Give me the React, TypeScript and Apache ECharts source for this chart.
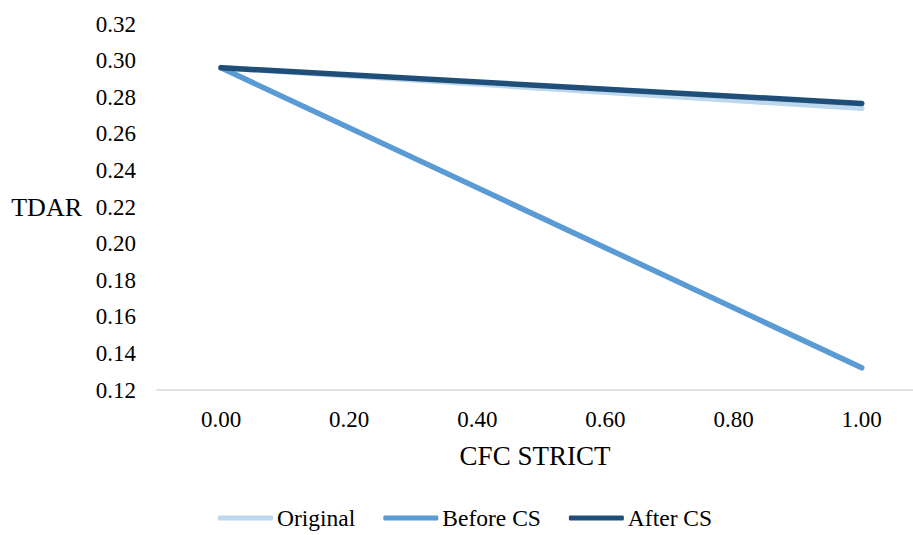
import React, { useEffect, useRef } from "react";
import * as echarts from "echarts";

const xValues = [0, 1];
const xTicks = [0, 0.2, 0.4, 0.6, 0.8, 1.0];
const original = [0.2961, 0.2739];
const beforeCS = [0.2961, 0.1321];
const afterCS = [0.2961, 0.2766];
const seriesNames = ["Original", "Before CS", "After CS"];
const colors = ["#BDD7EE", "#5B9BD5", "#1F4E79"];

const FONT = "Liberation Serif";

export default function App() {
  const ref = useRef<HTMLDivElement>(null);
  useEffect(() => {
    if (!ref.current) return;
    const chart = echarts.init(ref.current, undefined, { renderer: "svg" });
    const allData = [original, beforeCS, afterCS];
    chart.setOption({
      animation: false,
      backgroundColor: "#ffffff",
      textStyle: { fontFamily: FONT },
      grid: { left: 157, right: 0, top: 24, bottom: 145 },
      legend: {
        top: 505,
        left: 218,
        padding: 0,
        itemWidth: 55,
        itemHeight: 5,
        itemGap: 28,
        icon: "roundRect",
        textStyle: { fontFamily: FONT, fontSize: 23.5, color: "#000", lineHeight: 26, padding: [0, 0, 0, -1] },
        data: seriesNames,
      },
      xAxis: {
        type: "value",
        min: -0.1,
        max: 1.08,
        name: "CFC STRICT",
        nameLocation: "middle",
        nameGap: 52,
        nameTextStyle: { fontFamily: FONT, fontSize: 27, color: "#000" },
        axisLine: { show: true, onZero: false, lineStyle: { color: "#D9D9D9", width: 1.5 } },
        axisTick: { show: false },
        splitLine: { show: false },
        axisLabel: {
          customValues: xTicks,
          formatter: (v: number) => v.toFixed(2),
          fontFamily: FONT,
          fontSize: 23,
          color: "#000",
          margin: 18,
        },
      },
      yAxis: {
        type: "value",
        min: 0.12,
        max: 0.32,
        interval: 0.02,
        name: "TDAR",
        nameLocation: "middle",
        nameRotate: 0,
        nameGap: 75,
        nameTextStyle: { fontFamily: FONT, fontSize: 26, color: "#000", align: "right" },
        axisLine: { show: false },
        axisTick: { show: false },
        splitLine: { show: false },
        axisLabel: {
          formatter: (v: number) => v.toFixed(2),
          fontFamily: FONT,
          fontSize: 23,
          color: "#000",
          margin: 21,
        },
      },
      series: seriesNames.map((name, i) => ({
        name,
        type: "line",
        data: xValues.map((x, j) => [x, allData[i][j]]),
        symbol: "none",
        lineStyle: { color: colors[i], width: 5.5, cap: "round" },
        itemStyle: { color: colors[i] },
      })),
    });
    return () => chart.dispose();
  }, []);
  return (
    <div
      ref={ref}
      style={{ position: "fixed", left: 0, top: 0, width: 913, height: 535, background: "#fff" }}
    />
  );
}
